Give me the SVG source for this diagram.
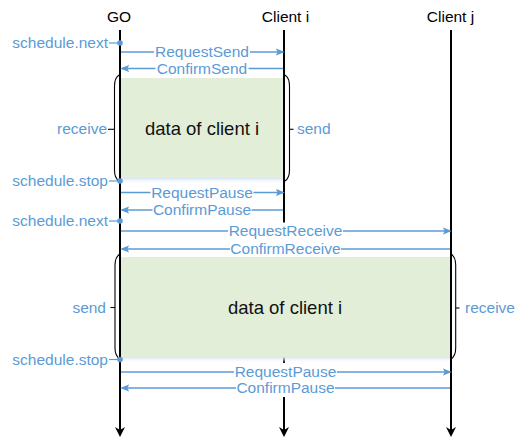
<svg xmlns="http://www.w3.org/2000/svg" width="518" height="441" viewBox="0 0 518 441">
<style>
  .hdr { font-family: "Liberation Sans", Arial, sans-serif; font-size: 15.5px; fill: #000; text-anchor: middle; }
  .lbl { font-family: "Liberation Sans", Arial, sans-serif; font-size: 15.5px; fill: #5b9bd5; }
  .mid { text-anchor: middle; }
  .end { text-anchor: end; }
  .data { font-family: "Liberation Sans", Arial, sans-serif; font-size: 18.5px; fill: #111; text-anchor: middle; }
  .life { stroke: #000; stroke-width: 2; fill: none; marker-end: url(#blk); }
  .blk { fill: #e2eed8; }
  .msg { stroke: #5b9bd5; stroke-width: 1.5; fill: none; marker-end: url(#blu); }
  .tick { stroke: #5b9bd5; stroke-width: 1.2; }
  .dot { fill: #5b9bd5; }
  .brace { stroke: #000; stroke-width: 1.1; fill: none; }
  .bg { fill: #fff; }
</style>
<defs>
  <marker id="blk" viewBox="0 0 10 10" markerWidth="10" markerHeight="10" refX="5" refY="5" orient="auto" markerUnits="userSpaceOnUse">
    <path d="M0,0 L10,5 L0,10 L3,5 z" fill="#000"/>
  </marker>
  <marker id="blu" viewBox="0 0 10 8" markerWidth="9" markerHeight="7.2" refX="8" refY="4" orient="auto" markerUnits="userSpaceOnUse">
    <path d="M0,0 L10,4 L0,8 L2,4 z" fill="#5b9bd5"/>
  </marker>
  <linearGradient id="glow" x1="0" y1="0" x2="0" y2="1">
    <stop offset="0" stop-color="#d5e3f3"/>
    <stop offset="1" stop-color="#ffffff" stop-opacity="0"/>
  </linearGradient>
</defs>

<g id="GO">
  <text class="hdr" x="119" y="22">GO</text>
  <path class="life" d="M120,30 V432"/>
</g>
<g id="ClientI">
  <text class="hdr" x="285.5" y="22">Client i</text>
  <path class="life" d="M284,30 V432"/>
</g>
<g id="ClientJ">
  <text class="hdr" x="450.5" y="22">Client j</text>
  <path class="life" d="M451,30 V432"/>
</g>

<g id="block1">
  <rect class="blk" x="121" y="78" width="162" height="100"/>
  <rect x="121" y="178" width="162" height="6" fill="url(#glow)"/>
  <text class="data" x="202" y="135">data of client i</text>
  <path class="brace" d="M119,75 Q114.5,78 114.5,86 V170 Q114.5,178 119,181"/>
  <line x1="108" y1="129.3" x2="114.5" y2="129.3" stroke="#000" stroke-width="1.1"/>
  <text class="lbl end" x="107" y="134">receive</text>
  <path class="brace" d="M285,75 Q289.5,78 289.5,86 V170 Q289.5,178 285,181"/>
  <line x1="289.5" y1="129.3" x2="293.5" y2="129.3" stroke="#000" stroke-width="1.1"/>
  <text class="lbl" x="297" y="134">send</text>
</g>

<g id="block2">
  <rect class="blk" x="121" y="257" width="329" height="100"/>
  <rect x="121" y="357" width="329" height="6" fill="url(#glow)"/>
  <text class="data" x="285" y="314">data of client i</text>
  <path class="brace" d="M120,254 Q115,257 115,265 V348 Q115,356 120,359"/>
  <line x1="110.5" y1="307.5" x2="115" y2="307.5" stroke="#000" stroke-width="1.1"/>
  <text class="lbl end" x="106" y="313">send</text>
  <path class="brace" d="M451,254 Q455.7,257 455.7,265 V348 Q455.7,356 451,359"/>
  <line x1="455.7" y1="308" x2="459.5" y2="308" stroke="#000" stroke-width="1.1"/>
  <text class="lbl" x="465" y="313">receive</text>
</g>

<g id="events">
  <line class="tick" x1="109" y1="43" x2="120" y2="43"/>
  <circle class="dot" cx="120" cy="43" r="2.8"/>
  <text class="lbl end" x="108" y="48">schedule.next</text>

  <line class="tick" x1="109" y1="181" x2="120" y2="181"/>
  <circle class="dot" cx="120" cy="181" r="2.8"/>
  <text class="lbl end" x="108" y="186">schedule.stop</text>

  <line class="tick" x1="109" y1="221" x2="120" y2="221"/>
  <circle class="dot" cx="120" cy="221" r="2.8"/>
  <text class="lbl end" x="108" y="226">schedule.next</text>

  <line class="tick" x1="109" y1="359.5" x2="120" y2="359.5"/>
  <circle class="dot" cx="120" cy="359.5" r="2.8"/>
  <text class="lbl end" x="108" y="364.5">schedule.stop</text>
</g>

<g id="connectors">
  <path class="msg" d="M121,52 H283"/>
  <rect class="bg" x="154" y="43.5" width="96" height="17"/>
  <text class="lbl mid" x="202" y="57">RequestSend</text>

  <path class="msg" d="M283,68.5 H122"/>
  <rect class="bg" x="155.5" y="60.5" width="93" height="16"/>
  <text class="lbl mid" x="202" y="73.5">ConfirmSend</text>

  <path class="msg" d="M121,192.5 H283"/>
  <rect class="bg" x="150.5" y="184" width="103" height="17"/>
  <text class="lbl mid" x="202" y="197.5">RequestPause</text>

  <path class="msg" d="M283,210 H122"/>
  <rect class="bg" x="152.5" y="201.5" width="99" height="16"/>
  <text class="lbl mid" x="202" y="215">ConfirmPause</text>

  <path class="msg" d="M121,231 H450"/>
  <rect class="bg" x="228" y="222.5" width="115" height="17.5"/>
  <text class="lbl mid" x="285.5" y="236">RequestReceive</text>

  <path class="msg" d="M450,249 H122"/>
  <rect class="bg" x="230" y="240" width="111" height="17"/>
  <text class="lbl mid" x="285.5" y="254">ConfirmReceive</text>

  <path class="msg" d="M121,372 H450"/>
  <rect class="bg" x="234" y="363" width="103" height="17"/>
  <text class="lbl mid" x="285.5" y="377">RequestPause</text>

  <path class="msg" d="M450,388 H122"/>
  <rect class="bg" x="236" y="380" width="99" height="17"/>
  <text class="lbl mid" x="285.5" y="393">ConfirmPause</text>
</g>
</svg>
